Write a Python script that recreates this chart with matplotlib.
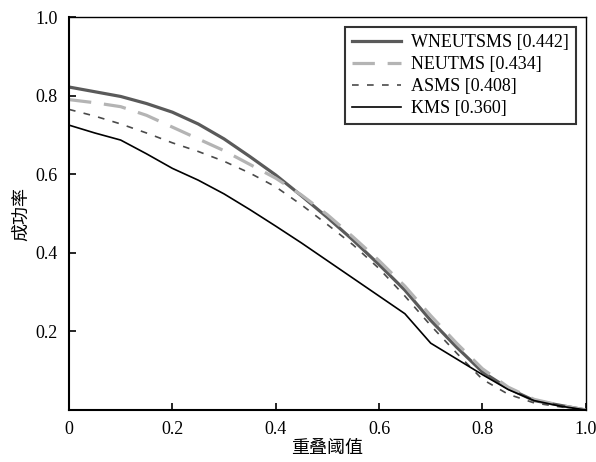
import matplotlib
matplotlib.use("Agg")
import matplotlib.pyplot as plt

thresholds = [0.0, 0.05, 0.1, 0.15, 0.2, 0.25, 0.3, 0.35, 0.4, 0.45, 0.5,
              0.55, 0.6, 0.65, 0.7, 0.75, 0.8, 0.85, 0.9, 0.95, 1.0]
wneutsms = [0.822, 0.81, 0.798, 0.78, 0.758, 0.728, 0.69, 0.645, 0.598, 0.545, 0.49,
            0.432, 0.37, 0.305, 0.228, 0.16, 0.097, 0.055, 0.024, 0.012, 0.0]
neutms = [0.79, 0.782, 0.772, 0.75, 0.72, 0.69, 0.66, 0.625, 0.59, 0.547, 0.497,
          0.44, 0.38, 0.315, 0.24, 0.17, 0.105, 0.058, 0.027, 0.012, 0.0]
asms = [0.765, 0.748, 0.728, 0.705, 0.68, 0.658, 0.633, 0.603, 0.568, 0.522, 0.472,
        0.42, 0.36, 0.29, 0.215, 0.145, 0.078, 0.04, 0.018, 0.008, 0.0]
kms = [0.725, 0.705, 0.687, 0.652, 0.615, 0.585, 0.55, 0.51, 0.468, 0.425, 0.38,
       0.335, 0.29, 0.245, 0.17, 0.13, 0.09, 0.052, 0.024, 0.01, 0.0]
labels = ["WNEUTSMS [0.442]", "NEUTMS [0.434]", "ASMS [0.408]", "KMS [0.360]"]
xticks = [0, 0.2, 0.4, 0.6, 0.8, 1.0]
xticklabels = ["0", "0.2", "0.4", "0.6", "0.8", "1.0"]
yticks = [0.2, 0.4, 0.6, 0.8, 1.0]
yticklabels = ["0.2", "0.4", "0.6", "0.8", "1.0"]

serif = ["Liberation Serif", "DejaVu Serif"]
cjk = ["Noto Sans CJK SC", "DejaVu Sans"]

fig = plt.figure(figsize=(5.96, 4.62), dpi=100)
ax = fig.add_axes([0.1158, 0.1126, 0.867, 0.8504])

ax.plot(thresholds, wneutsms, color="#5a5a5a", lw=2.3, label=labels[0])
ax.plot(thresholds, neutms, color="#b4b4b4", lw=2.3, dashes=(7, 4), label=labels[1])
ax.plot(thresholds, asms, color="#4a4a4a", lw=1.2, dashes=(4, 5), label=labels[2])
ax.plot(thresholds, kms, color="#000000", lw=1.2, label=labels[3])

ax.set_xlim(0, 1)
ax.set_ylim(0, 1)
ax.set_xticks(xticks)
ax.set_xticklabels(xticklabels, family=serif, fontsize=13)
ax.set_yticks(yticks)
ax.set_yticklabels(yticklabels, family=serif, fontsize=13)
ax.tick_params(direction="in", length=5, width=1.2, top=False, right=False, pad=8)
for side in ["left", "bottom"]:
    ax.spines[side].set_linewidth(1.5)
for side in ["top", "right"]:
    ax.spines[side].set_linewidth(1.0)

ax.set_xlabel("重叠阈值", family=cjk, fontsize=13, labelpad=1)
ax.set_ylabel("成功率", family=cjk, fontsize=13, labelpad=4)

leg = ax.legend(loc="upper right", prop={"family": serif, "size": 13},
                frameon=True, fancybox=False, handlelength=2.7, handletextpad=0.55,
                borderpad=0.4, labelspacing=0.27, borderaxespad=0.55)
leg.get_frame().set_edgecolor("black")
leg.get_frame().set_linewidth(1.5)

fig.savefig("out.png", dpi=100)
